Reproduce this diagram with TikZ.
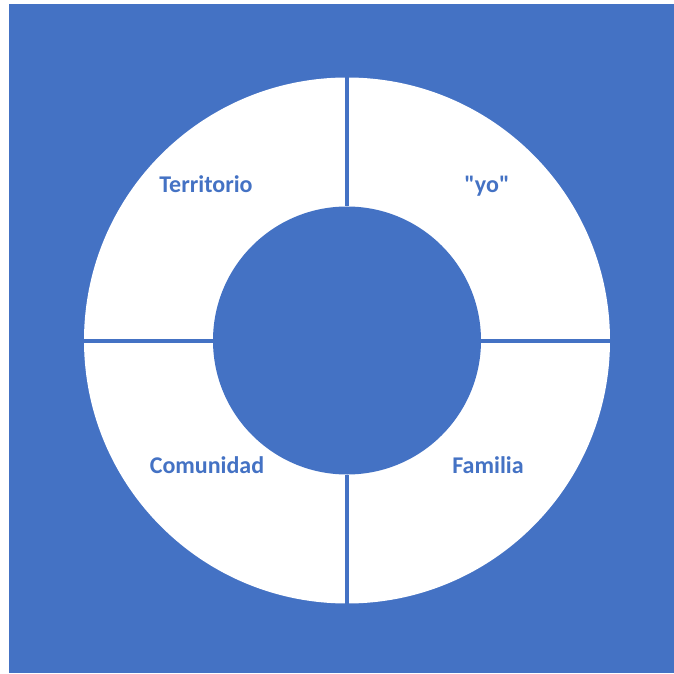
\documentclass[tikz,border=0pt]{standalone}
\usepackage{fontspec}
\setmainfont{Carlito}[Ligatures=TeXOff]
\definecolor{mainblue}{HTML}{4472C4}
\begin{document}
\begin{tikzpicture}[x=1pt,y=1pt,
  lbl/.style={anchor=base,text=mainblue,font=\fontsize{24}{28}\selectfont\bfseries,inner sep=0pt},
  sep/.style={draw=mainblue,line width=4pt}]
\useasboundingbox (0,0) rectangle (674,673);
\fill[mainblue] (9,0) rectangle (674,669);
\coordinate (C) at (347,332.5);
\fill[white] (C) circle (263);
\node[circle,fill=mainblue,minimum size=268,inner sep=0pt] (inner) at (C) {};
\coordinate (top) at (347,332.5+264);
\coordinate (bot) at (347,332.5-264);
\coordinate (lft) at (347-264,332.5);
\coordinate (rgt) at (347+264,332.5);
\draw[sep] (top) -- (inner.north);
\draw[sep] (bot) -- (inner.south);
\draw[sep] (lft) -- (inner.west);
\draw[sep] (rgt) -- (inner.east);
\node[lbl] (terr) at (206,480) {Territorio};
\node[lbl] (yo) at (487,480) {"yo"};
\node[lbl] (comu) at (207,200) {Comunidad};
\node[lbl] (fam) at (488,200) {Familia};
\end{tikzpicture}
\end{document}
